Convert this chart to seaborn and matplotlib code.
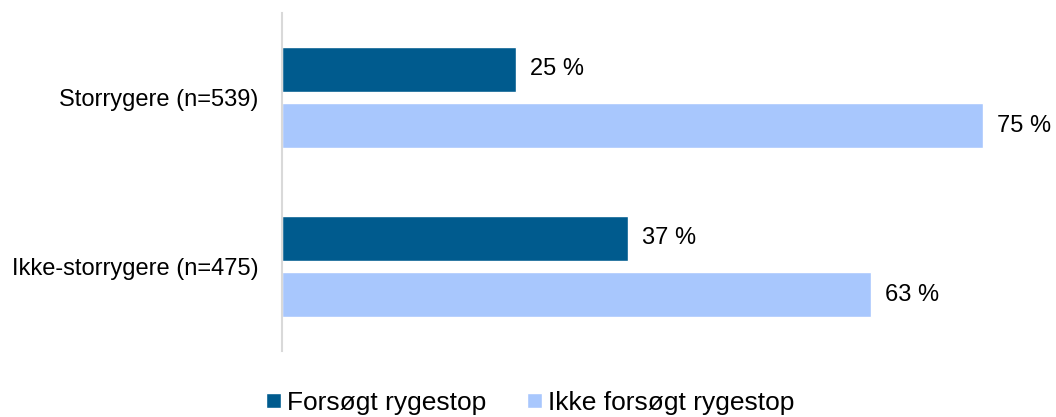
import matplotlib
matplotlib.use("Agg")
import matplotlib.pyplot as plt
import seaborn as sns
import pandas as pd

groups = ["Storrygere (n=539)", "Ikke-storrygere (n=475)"]
series = ["Forsøgt rygestop", "Ikke forsøgt rygestop"]
tried = [25, 37]
not_tried = [75, 63]
colors = ["#005B8E", "#A8C7FD"]

df = pd.DataFrame({
    "group": groups * 2,
    "series": [series[0]] * 2 + [series[1]] * 2,
    "value": tried + not_tried,
})

sns.set_theme(style="white")
plt.rcParams["font.family"] = ["Liberation Sans", "DejaVu Sans"]
plt.rcParams["text.color"] = "#000000"

fig = plt.figure(figsize=(10.56, 4.17), dpi=100)
ax = fig.add_axes([282 / 1056, 1 - 351 / 417, 748 / 1056, 338 / 417])

sns.barplot(data=df, x="value", y="group", hue="series", orient="h",
            palette=colors, width=0.665, gap=0.2, ax=ax,
            hue_order=series, order=groups, legend=True, saturation=1)

for cont in ax.containers:
    vals = [r.get_width() for r in cont]
    ax.bar_label(cont, labels=[f"{v:.0f} %" for v in vals], padding=10,
                 fontsize=17, color="#000000")

ax.set_xlim(0, 80)
ax.set_ylim(1.5, -0.5)
ax.set_xlabel("")
ax.set_ylabel("")
ax.set_xticks([])
ax.tick_params(axis="y", length=0, pad=17, labelsize=17, labelcolor="#000000")
for side in ["top", "right", "bottom"]:
    ax.spines[side].set_visible(False)
ax.spines["left"].set_color("#D9D9D9")
ax.spines["left"].set_linewidth(1.5)

handles, labels = ax.get_legend_handles_labels()
ax.get_legend().remove()
fig.legend(handles, labels, loc="center", bbox_to_anchor=(530 / 1056, 1 - 403 / 417),
           ncol=2, frameon=False, fontsize=19, handlelength=0.57, handleheight=0.5,
           handletextpad=0.23, columnspacing=1.55, borderpad=0,
           labelcolor="#000000")

fig.savefig("out.png", dpi=100, facecolor="white")
